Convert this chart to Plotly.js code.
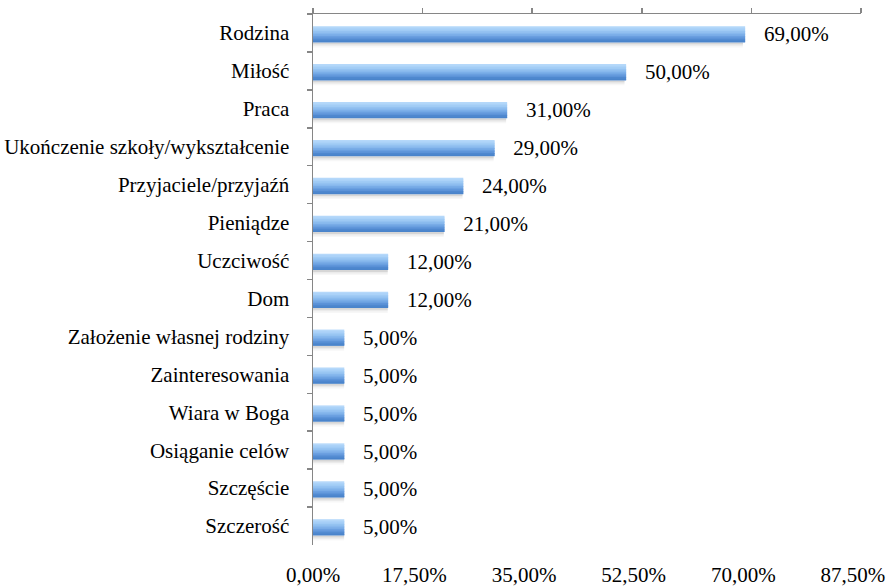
<!DOCTYPE html>
<html>
<head>
<meta charset="utf-8">
<script src="https://cdn.plot.ly/plotly-3.0.1.min.js"></script>
<style>
  body { margin: 0; background: #fff; }
  #chart { width: 888px; height: 586px; }
</style>
</head>
<body>
<div id="chart"></div>
<script>
// Dane z wykresu
const categories = [
    'Rodzina', 'Miłość', 'Praca', 'Ukończenie szkoły/wykształcenie',
    'Przyjaciele/przyjaźń', 'Pieniądze', 'Uczciwość', 'Dom',
    'Założenie własnej rodziny', 'Zainteresowania', 'Wiara w Boga',
    'Osiąganie celów', 'Szczęście', 'Szczerość'
];
const values = [69, 50, 31, 29, 24, 21, 12, 12, 5, 5, 5, 5, 5, 5];
const tickValues = [0, 17.5, 35, 52.5, 70, 87.5];

const FONT = 'Liberation Serif';
const fmt = v => v.toFixed(2).replace('.', ',') + '%';
const tickLabels = tickValues.map(fmt);

// Gradient paska - paski nakładane od góry do dołu
const stripeColors = ['#b5d8fa', '#abd2f8', '#a0cbf5', '#94c2f1', '#87b8ed', '#79ace7', '#6a9fe0', '#5c93d8', '#4f88cf', '#4a84cb'];
const barTop = -0.18;
const barHeight = 0.43;
const labelShift = 1.3; // etykiety osi lekko w lewo, jak w oryginale
const traces = [];

// cień pod paskiem
[['rgba(0,0,0,0.16)', 0.25, 0.05], ['rgba(0,0,0,0.08)', 0.30, 0.04], ['rgba(0,0,0,0.03)', 0.34, 0.04]].forEach(s => {
    traces.push({
        type: 'bar', orientation: 'h', x: values.map(v => v * 0.995), y: categories,
        offset: s[1], width: s[2],
        marker: { color: s[0], line: { width: 0 } },
        hoverinfo: 'skip', showlegend: false
    });
});

const h = barHeight / stripeColors.length;
stripeColors.forEach((c, i) => {
    traces.push({
        type: 'bar', orientation: 'h', x: values, y: categories,
        offset: barTop + i * h, width: (i === stripeColors.length - 1) ? h : h * 1.6,
        marker: { color: c, line: { width: 0 } },
        hoverinfo: 'skip', showlegend: false
    });
});

// etykiety wartości
traces.push({
    type: 'bar', orientation: 'h', x: values, y: categories,
    offset: barTop, width: barHeight,
    marker: { color: 'rgba(0,0,0,0)' },
    text: values.map(v => '\u00a0\u00a0\u00a0' + fmt(v)),
    textposition: 'outside', cliponaxis: false, constraintext: 'none',
    textfont: { family: FONT, size: 21, color: '#000' },
    hoverinfo: 'skip', showlegend: false
});

// oś dolna tylko z etykietami
traces.push({
    type: 'scatter', mode: 'none', x: [0], y: [categories[0]],
    xaxis: 'x2', hoverinfo: 'skip', showlegend: false
});

const layout = {
    width: 888, height: 586,
    margin: { l: 313, r: 27, t: 14, b: 41 },
    paper_bgcolor: '#fff', plot_bgcolor: '#fff',
    barmode: 'overlay',
    showlegend: false,
    font: { family: FONT, size: 21, color: '#000' },
    xaxis: {
        range: [0, 87.5], side: 'top',
        tickvals: tickValues, showticklabels: false,
        showgrid: false, zeroline: false,
        showline: true, linecolor: '#868686', linewidth: 1.5,
        ticks: 'outside', ticklen: 5, tickcolor: '#868686', tickwidth: 1.5
    },
    xaxis2: {
        range: [0, 87.5], overlaying: 'x', side: 'bottom', anchor: 'y',
        tickvals: tickValues.map(v => Math.max(0, v - labelShift)), ticktext: tickLabels,
        showgrid: false, zeroline: false, showline: false, ticks: '',
        ticklabelstandoff: 15, ticklabeloverflow: 'allow',
        tickfont: { family: FONT, size: 21, color: '#000' }
    },
    yaxis: {
        type: 'category', range: [13.5, -0.5], autorange: false,
        showgrid: false, zeroline: false,
        showline: true, linecolor: '#868686', linewidth: 1.5,
        ticks: 'outside', ticklen: 5, tickcolor: '#868686', tickwidth: 1.5,
        tickson: 'boundaries',
        ticklabelstandoff: 18,
        tickfont: { family: FONT, size: 21, color: '#000' }
    }
};

Plotly.newPlot('chart', traces, layout, { displayModeBar: false, staticPlot: true });
</script>
</body>
</html>
